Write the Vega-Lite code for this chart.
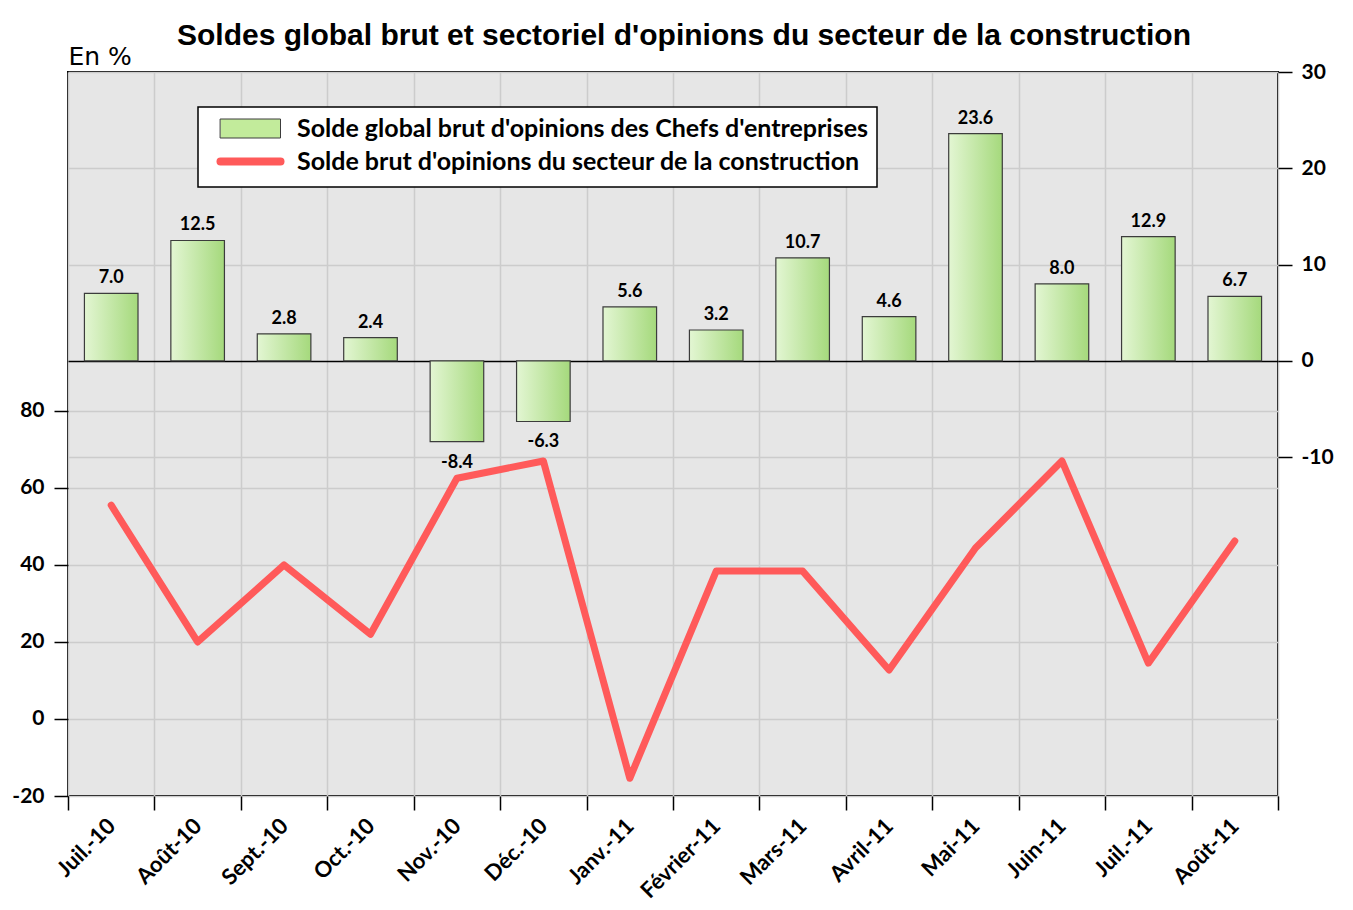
{
  "$schema": "https://vega.github.io/schema/vega-lite/v6.json",
  "width": 1210,
  "height": 724,
  "autosize": {"type": "none"},
  "padding": {"left": 68, "top": 72, "right": 75, "bottom": 114},
  "background": "white",
  "title": {
    "text": "Soldes global brut et sectoriel d'opinions du secteur de la construction",
    "font": "Liberation Sans",
    "fontSize": 30,
    "fontWeight": "bold",
    "color": "black",
    "anchor": "middle",
    "frame": "group",
    "baseline": "alphabetic",
    "offset": 26,
    "dx": 11,
    "dy": 57
  },
  "config": {
    "locale": {"number": {"decimal": ".", "thousands": ",", "grouping": [3], "currency": ["", ""], "minus": "-"}},
    "view": {"fill": "#e6e6e6", "stroke": "black", "strokeWidth": 2},
    "axis": {
      "labelFont": "Lato",
      "labelFontSize": 21,
      "labelFontWeight": "bold",
      "labelColor": "black",
      "tickColor": "black",
      "tickWidth": 1.5,
      "tickSize": 14,
      "gridColor": "#cccccc",
      "gridWidth": 1.5,
      "domain": false
    }
  },
  "data": {
    "values": [
      {"mois": "Juil.-10", "global": 7.0, "construction": 55.5},
      {"mois": "Août-10", "global": 12.5, "construction": 20.0},
      {"mois": "Sept.-10", "global": 2.8, "construction": 40.0},
      {"mois": "Oct.-10", "global": 2.4, "construction": 22.0},
      {"mois": "Nov.-10", "global": -8.4, "construction": 62.5},
      {"mois": "Déc.-10", "global": -6.3, "construction": 67.0},
      {"mois": "Janv.-11", "global": 5.6, "construction": -15.4},
      {"mois": "Février-11", "global": 3.2, "construction": 38.4},
      {"mois": "Mars-11", "global": 10.7, "construction": 38.4},
      {"mois": "Avril-11", "global": 4.6, "construction": 12.7},
      {"mois": "Mai-11", "global": 23.6, "construction": 44.4},
      {"mois": "Juin-11", "global": 8.0, "construction": 67.0},
      {"mois": "Juil.-11", "global": 12.9, "construction": 14.5},
      {"mois": "Août-11", "global": 6.7, "construction": 46.2}
    ]
  },
  "layer": [
    {
      "encoding": {
        "x": {
          "field": "mois",
          "type": "nominal",
          "sort": null,
          "scale": {"paddingInner": 0, "paddingOuter": 0},
          "axis": {
            "title": null,
            "labelAngle": -45,
            "labelAlign": "right",
            "labelBaseline": "middle",
            "labelFontSize": 22,
            "labelPadding": 12,
            "tickBand": "extent",
            "grid": true
          }
        },
        "y": {
          "field": "global",
          "type": "quantitative",
          "scale": {"domain": [-45.2, 30], "nice": false, "zero": false},
          "axis": {
            "orient": "right",
            "title": null,
            "values": [-10, 0, 10, 20, 30],
            "format": "d",
            "grid": true,
            "gridColor": {"condition": {"test": "datum.value === 0", "value": "black"}, "value": "#cccccc"},
            "labelPadding": 9
          }
        }
      },
      "layer": [
        {
          "mark": {
            "type": "bar",
            "width": {"band": 0.62},
            "strokeWidth": 1.2,
            "fill": {
              "gradient": "linear",
              "x1": 0, "y1": 0, "x2": 1, "y2": 0,
              "stops": [
                {"offset": 0, "color": "#e3f6d3"},
                {"offset": 1, "color": "#a5d97c"}
              ]
            }
          },
          "encoding": {
            "stroke": {
              "datum": "Solde global brut d'opinions des Chefs d'entreprises",
              "type": "nominal",
              "scale": {
                "domain": ["Solde global brut d'opinions des Chefs d'entreprises", "Solde brut d'opinions du secteur de la construction"],
                "range": ["#3c3c3c", "#ff5a5a"]
              },
              "legend": {
                "title": null,
                "orient": "none",
                "legendX": 130,
                "legendY": 35,
                "direction": "vertical",
                "fillColor": "white",
                "strokeColor": "black",
                "padding": 9,
                "labelFont": "Lato",
                "labelFontSize": 25,
                "labelFontWeight": "bold",
                "labelColor": "black",
                "labelLimit": 900,
                "symbolSize": 400,
                "labelOffset": 65,
                "rowPadding": 3,
                "encode": {
                  "legend": {"update": {"strokeWidth": {"value": 1.5}}},
                  "symbols": {
                    "update": {
                      "shape": {"signal": "datum.index === 0 ? 'M0.1,-0.95H6.1V0.95H0.1Z' : 'M0.1,0H6.1'"},
                      "fill": {"signal": "datum.index === 0 ? '#c2eb9b' : 'transparent'"},
                      "stroke": {"signal": "datum.index === 0 ? '#444444' : '#ff5a5a'"},
                      "strokeWidth": {"signal": "datum.index === 0 ? 1 : 8"},
                      "strokeCap": {"value": "round"},
                      "opacity": {"value": 1}
                    }
                  }
                }
              }
            }
          }
        },
        {
          "transform": [{"filter": "datum.global >= 0"}],
          "mark": {"type": "text", "font": "Lato", "fontSize": 18, "fontWeight": "bold", "color": "black", "baseline": "alphabetic", "dy": -10},
          "encoding": {"text": {"field": "global", "type": "quantitative", "format": ".1f"}}
        },
        {
          "transform": [{"filter": "datum.global < 0"}],
          "mark": {"type": "text", "font": "Lato", "fontSize": 18, "fontWeight": "bold", "color": "black", "baseline": "alphabetic", "dy": 26},
          "encoding": {"text": {"field": "global", "type": "quantitative", "format": ".1f"}}
        }
      ]
    },
    {
      "mark": {"type": "line", "strokeWidth": 7, "strokeCap": "round", "strokeJoin": "round"},
      "encoding": {
        "x": {"field": "mois", "type": "nominal", "sort": null},
        "y": {
          "field": "construction",
          "type": "quantitative",
          "scale": {"domain": [-20, 168], "nice": false, "zero": false},
          "axis": {
            "orient": "left",
            "title": "En %",
            "titleFont": "DejaVu Sans",
            "titleFontSize": 25,
            "titleFontWeight": "normal",
            "titleColor": "black",
            "titleAngle": 0,
            "titleAlign": "left",
            "titleBaseline": "alphabetic",
            "titleX": 0,
            "titleY": -8,
            "values": [-20, 0, 20, 40, 60, 80],
            "grid": true,
            "labelPadding": 10
          }
        },
        "stroke": {
          "datum": "Solde brut d'opinions du secteur de la construction",
          "type": "nominal",
          "legend": {
            "title": null,
            "orient": "none",
            "legendX": 130,
            "legendY": 35,
            "direction": "vertical",
            "fillColor": "white",
            "strokeColor": "black",
            "padding": 9,
            "labelFont": "Lato",
            "labelFontSize": 25,
            "labelFontWeight": "bold",
            "labelColor": "black",
            "labelLimit": 900,
            "symbolSize": 400,
            "labelOffset": 65,
            "rowPadding": 3,
            "encode": {
              "legend": {"update": {"strokeWidth": {"value": 1.5}}},
              "symbols": {
                "update": {
                  "shape": {"signal": "datum.index === 0 ? 'M0.1,-0.95H6.1V0.95H0.1Z' : 'M0.1,0H6.1'"},
                  "fill": {"signal": "datum.index === 0 ? '#c2eb9b' : 'transparent'"},
                  "stroke": {"signal": "datum.index === 0 ? '#444444' : '#ff5a5a'"},
                  "strokeWidth": {"signal": "datum.index === 0 ? 1 : 8"},
                  "strokeCap": {"value": "round"},
                  "opacity": {"value": 1}
                }
              }
            }
          }
        }
      }
    }
  ],
  "resolve": {"scale": {"y": "independent"}}
}
